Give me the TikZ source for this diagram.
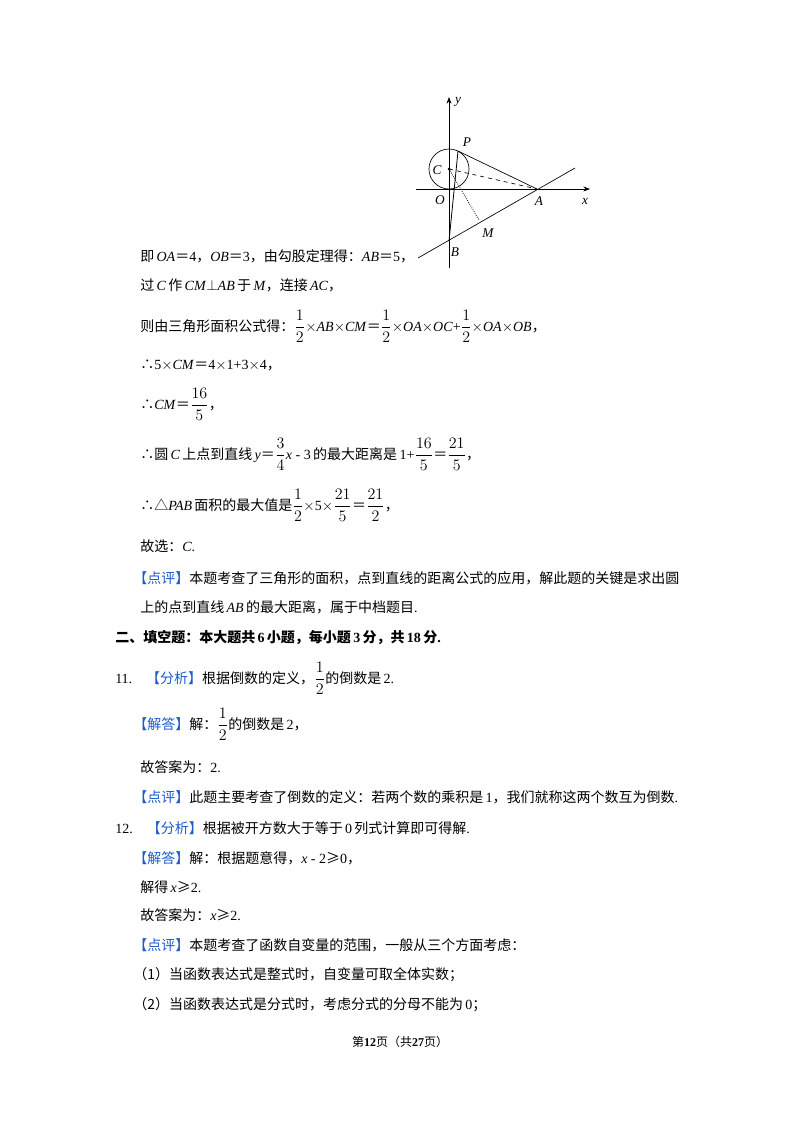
\documentclass[tikz,border=0pt]{standalone}
\usepackage{amsmath}
\usepackage{fontspec}
\setmainfont{Liberation Serif}
\newfontfamily\cjk{Noto Sans CJK SC}
\newcommand\zh[1]{{\cjk #1}}
\newcommand\hl[1]{{\color{bl}\cjk #1}}
\newcommand\fr[2]{{\fontsize{12}{14}\selectfont$\dfrac{#1}{#2}$}}
\newcommand\eq{{\cjk ＝}}
\definecolor{bl}{RGB}{30,90,200}
\usetikzlibrary{arrows.meta}
\begin{document}
\begin{tikzpicture}[x=0.75pt,y=-0.75pt,
  txt/.style={anchor=west,inner sep=0pt,font=\fontsize{10.5}{12}\selectfont},
  lab/.style={inner sep=0pt,font=\fontsize{10}{11}\selectfont\itshape},
  ax/.style={-{Stealth[length=5pt]},line width=0.6pt}]
\useasboundingbox (0,0) rectangle (800,1132);
% figure
\coordinate (O) at (449,189);
\coordinate (A) at (537,189);
\coordinate (B) at (449,241);
\coordinate (C) at (449,169);
\coordinate (P) at (458,151);
\coordinate (M) at (479,220);
\coordinate (L1) at (418,258);
\coordinate (L2) at (575,168);
\coordinate (Xs) at (416,189);
\coordinate (Xe) at (590,189);
\coordinate (Ys) at (449,268);
\coordinate (Ye) at (449,97);
\draw[ax] (Xs) -- (Xe);
\draw[ax] (Ys) -- (Ye);
\draw[line width=0.5pt] (C) circle (20);
\fill (C) circle (1.5);
\draw[line width=0.5pt] (L1) -- (L2);
\draw[line width=0.5pt] (P) -- (A);
\draw[line width=0.6pt] (P) -- (B);
\draw[dashed,line width=0.5pt] (C) -- (A);
\draw[densely dotted,line width=0.6pt] (C) -- (M);
\node[lab] (ly) at (458,102) {y};
\node[lab] (lp) at (467,142) {P};
\node[lab] (lc) at (437,170) {C};
\node[lab] (lo) at (440,200) {O};
\node[lab] (la) at (539,201) {A};
\node[lab] (lx) at (585,201) {x};
\node[lab] (lm) at (488,233) {M};
\node[lab] (lb) at (455,252) {B};
% text
\node[txt] (t1) at (140,256) {\zh{即}\,\textit{OA}\eq4\zh{，}\textit{OB}\eq3\zh{，由勾股定理得：}\textit{AB}\eq5\zh{，}};
\node[txt] (t2) at (140,285) {\zh{过}\,\textit{C}\,\zh{作}\,\textit{CM}$\perp$\textit{AB}\,\zh{于}\,\textit{M}\zh{，连接}\,\textit{AC}\zh{，}};
\node[txt] (t3) at (140,326) {\zh{则由三角形面积公式得：}\fr{1}{2}$\times$\textit{AB}$\times$\textit{CM}\eq\fr{1}{2}$\times$\textit{OA}$\times$\textit{OC}+\fr{1}{2}$\times$\textit{OA}$\times$\textit{OB}\zh{，}};
\node[txt] (t4) at (140,365) {\zh{∴}5$\times$\textit{CM}\eq4$\times$1+3$\times$4\zh{，}};
\node[txt] (t5) at (140,404) {\zh{∴}\textit{CM}\eq\fr{16}{5}\zh{，}};
\node[txt] (t6) at (140,454) {\zh{∴圆}\,\textit{C}\,\zh{上点到直线}\,\textit{y}\eq\fr{3}{4}\textit{x} - 3\,\zh{的最大距离是}\,1+\fr{16}{5}\eq\fr{21}{5}\zh{，}};
\node[txt] (t7) at (140,505) {\zh{∴△}\textit{PAB}\,\zh{面积的最大值是}\fr{1}{2}$\times$5$\times$\fr{21}{5}\eq\fr{21}{2}\zh{，}};
\node[txt] (t8) at (140,546) {\zh{故选：}\textit{C}.};
\node[txt] (t9) at (133,578) {\hl{【点评】}\zh{本题考查了三角形的面积，点到直线的距离公式的应用，解此题的关键是求出圆}};
\node[txt] (t10) at (140,607) {\zh{上的点到直线}\,\textit{AB}\,\zh{的最大距离，属于中档题目}.};
\node[txt] (t11) at (115,638) {\textbf{\zh{二、填空题：本大题共}\,6\,\zh{小题，每小题}\,3\,\zh{分，共}\,18\,\zh{分}.}};
\node[txt] (t12) at (115,678) {11.\quad\hl{【分析】}\zh{根据倒数的定义，}\fr{1}{2}\zh{的倒数是}\,2.};
\node[txt] (t13) at (133,724) {\hl{【解答】}\zh{解：}\fr{1}{2}\zh{的倒数是}\,2\zh{，}};
\node[txt] (t14) at (140,767) {\zh{故答案为：}2.};
\node[txt] (t15) at (133,797) {\hl{【点评】}\zh{此题主要考查了倒数的定义：若两个数的乘积是}\,1\zh{，我们就称这两个数互为倒数}.};
\node[txt] (t16) at (115,828) {12.\quad\hl{【分析】}\zh{根据被开方数大于等于}\,0\,\zh{列式计算即可得解}.};
\node[txt] (t17) at (133,858) {\hl{【解答】}\zh{解：根据题意得，}\textit{x} - 2\zh{≥}0\zh{，}};
\node[txt] (t18) at (140,887) {\zh{解得}\,\textit{x}\zh{≥}2.};
\node[txt] (t19) at (140,915) {\zh{故答案为：}\textit{x}\zh{≥}2.};
\node[txt] (t20) at (133,945) {\hl{【点评】}\zh{本题考查了函数自变量的范围，一般从三个方面考虑：}};
\node[txt] (t21) at (133,975) {\zh{（1）当函数表达式是整式时，自变量可取全体实数；}};
\node[txt] (t22) at (133,1005) {\zh{（2）当函数表达式是分式时，考虑分式的分母不能为}\,0\zh{；}};
\node[inner sep=0pt,font=\fontsize{9}{10}\selectfont] (pg) at (400,1042) {\zh{第}\textbf{12}\zh{页（共}\textbf{27}\zh{页）}};
\end{tikzpicture}
\end{document}
